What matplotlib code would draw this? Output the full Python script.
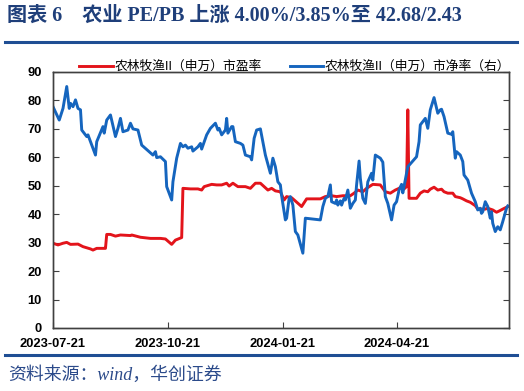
import matplotlib
matplotlib.use("Agg")
import matplotlib.pyplot as plt
from matplotlib.lines import Line2D
import pandas as pd

# ---------------- data ----------------
start_date = "2023-07-21"
end_date = "2024-07-20"

# PE (left axis), day offsets from start_date
pe_days = [0, 4, 8, 11, 14, 20, 24, 30, 32, 35, 41, 42, 43, 46, 50, 54, 62, 63, 70, 78,
           86, 90, 95, 98, 103, 104, 110, 116, 119, 121, 127, 131, 135, 139, 141, 144,
           148, 154, 158, 162, 166, 170, 172, 175, 178, 182, 185, 187, 191, 199, 203,
           214, 218, 223, 227, 232, 238, 241, 244, 248, 251, 256, 262, 266, 270, 274,
           277, 279, 280, 283, 284, 285, 291, 294, 297, 300, 302, 305, 308, 311, 313,
           316, 320, 322, 326, 328, 331, 334, 338, 340, 346, 348, 352, 355, 357, 360, 364]
pe_values = [29.8, 29.2, 29.8, 30.1, 29.4, 29.5, 28.6, 27.8, 27.4, 28.0, 28.0, 28.0, 32.9,
             32.9, 32.3, 32.7, 32.5, 32.7, 31.9, 31.5, 31.5, 31.3, 29.4, 30.9, 31.8, 49.1,
             48.9, 48.9, 48.5, 49.7, 50.5, 50.3, 50.3, 50.9, 49.9, 50.9, 49.7, 49.7, 49.1,
             50.9, 50.9, 49.3, 48.5, 49.1, 48.2, 47.9, 45.0, 46.2, 45.8, 42.7, 45.4, 45.4,
             46.2, 46.5, 46.2, 46.5, 46.5, 47.4, 48.5, 47.9, 49.1, 50.5, 50.3, 47.9, 47.4,
             48.5, 49.1, 49.7, 48.5, 49.7, 76.7, 45.6, 45.6, 47.4, 48.2, 47.9, 48.8, 49.5,
             48.5, 48.8, 47.9, 47.4, 47.4, 46.2, 45.8, 45.4, 44.7, 44.2, 43.0, 41.8, 41.8,
             42.1, 41.5, 40.7, 41.1, 41.8, 42.68]

# PB (right axis, plotted on the same 0-90 scale)
pb_days = [0, 5, 8, 11, 13, 14, 16, 18, 20, 22, 23, 27, 28, 30, 34, 35, 40, 41, 43, 46,
           50, 52, 54, 56, 60, 62, 64, 68, 71, 80, 82, 83, 86, 90, 91, 92, 95, 96, 99,
           102, 104, 106, 108, 111, 112, 116, 118, 119, 123, 126, 130, 132, 133, 135,
           138, 139, 140, 143, 144, 146, 150, 152, 154, 158, 159, 161, 163, 166, 170,
           174, 176, 178, 180, 182, 183, 185, 186, 187, 189, 190, 192, 194, 196, 200,
           202, 214, 216, 218, 220, 222, 223, 226, 227, 228, 230, 231, 233, 234, 236,
           238, 240, 242, 243, 245, 246, 248, 250, 252, 255, 256, 258, 262, 264, 266,
           268, 271, 273, 275, 277, 279, 280, 282, 284, 291, 293, 294, 298, 300, 302,
           305, 308, 310, 311, 313, 316, 319, 320, 322, 323, 326, 328, 329, 332, 335,
           338, 340, 342, 343, 344, 346, 348, 350, 351, 352, 354, 356, 358, 360, 363, 364]
pb_values = [77.8, 73.1, 77.2, 84.9, 77.2, 79.0, 77.8, 80.2, 77.2, 76.7, 69.6, 67.3, 67.9,
             65.5, 60.8, 65.5, 70.8, 68.5, 73.1, 74.9, 67.3, 70.2, 73.7, 69.0, 69.6, 72.0,
             70.0, 69.6, 64.3, 60.8, 62.0, 59.9, 60.2, 58.5, 49.7, 48.5, 45.0, 51.4, 59.7,
             64.9, 63.7, 64.3, 63.2, 63.7, 62.2, 63.7, 64.9, 62.9, 67.9, 70.2, 72.0, 69.6,
             70.2, 67.9, 69.6, 73.7, 68.5, 70.8, 70.8, 65.5, 64.9, 64.3, 60.8, 60.2, 59.1,
             66.7, 69.6, 70.0, 60.8, 54.4, 59.7, 56.7, 51.4, 50.3, 46.5, 40.9, 38.0, 38.6,
             45.6, 46.2, 43.2, 33.9, 32.7, 26.3, 38.6, 38.0, 42.7, 45.6, 46.2, 50.3, 44.4,
             43.8, 45.0, 43.2, 44.7, 43.2, 45.6, 45.0, 48.5, 42.1, 43.8, 45.0, 50.3, 58.7,
             52.6, 45.6, 43.8, 51.4, 54.4, 52.0, 60.8, 59.7, 58.3, 46.2, 43.8, 38.0, 43.2,
             44.4, 48.5, 50.5, 47.5, 52.0, 56.7, 60.2, 65.5, 71.4, 73.7, 70.2, 76.7, 81.0,
             75.5, 76.7, 76.9, 74.3, 68.5, 68.1, 69.0, 59.7, 62.0, 60.8, 58.5, 53.8, 52.0,
             47.4, 44.4, 41.5, 42.1, 40.3, 40.9, 44.4, 42.7, 38.6, 40.9, 36.8, 33.9, 35.6,
             34.5, 37.4, 42.1, 42.9]

x_ticks = ["2023-07-21", "2023-10-21", "2024-01-21", "2024-04-21"]
y_ticks = [0, 10, 20, 30, 40, 50, 60, 70, 80, 90]

pe_label = "农林牧渔II（申万）市盈率"
pb_label = "农林牧渔II（申万）市净率（右）"
title = "图表 6    农业 PE/PB 上涨 4.00%/3.85%至 42.68/2.43"
source = "资料来源：wind，华创证券"

# ---------------- styling ----------------
RED = "#E3141B"
BLUE = "#1565BE"
NAVY = "#1F3F7A"
CJK = ["Liberation Sans", "Noto Sans CJK SC", "DejaVu Sans"]
SERIF = ["Liberation Serif", "Noto Sans CJK SC", "DejaVu Sans"]
plt.rcParams["font.family"] = CJK

base = pd.Timestamp(start_date)
pe_dates = base + pd.to_timedelta(pe_days, unit="D")
pb_dates = base + pd.to_timedelta(pb_days, unit="D")

fig = plt.figure(figsize=(5.24, 3.91), dpi=100)
ax = fig.add_axes([53 / 524, 1 - 328 / 391, (509 - 53) / 524, (328 - 72) / 391])
ax2 = ax.twinx()

ax.plot(pe_dates, pe_values, color=RED, lw=2.1, solid_joinstyle="round")
ax2.plot(pb_dates, pb_values, color=BLUE, lw=2.1, solid_joinstyle="round")

ax.set_xlim(pd.Timestamp(start_date), pd.Timestamp(end_date))
ax.set_ylim(0, 90)
ax2.set_ylim(0, 90)
ax.set_yticks(y_ticks)
ax2.set_yticks(y_ticks)
ax2.set_yticklabels([])
ax.set_xticks(pd.to_datetime(x_ticks))
ax.set_xticklabels(x_ticks)

for a in (ax, ax2):
    for s in a.spines.values():
        s.set_color("#404040")
        s.set_linewidth(1.0)
ax.tick_params(axis="both", direction="in", length=4, width=0.8, color="#404040")
ax2.tick_params(axis="y", direction="in", length=4, width=0.8, color="#404040")
ax.tick_params(axis="y", pad=8)
ax.tick_params(axis="x", pad=7)
for lab in ax.get_yticklabels() + ax.get_xticklabels():
    lab.set_fontweight("bold")
    lab.set_fontsize(9.3)
    lab.set_fontfamily(["Liberation Sans", "DejaVu Sans"])

handles = [Line2D([], [], color=RED, lw=2.1), Line2D([], [], color=BLUE, lw=2.1)]
leg = fig.legend(handles, [pe_label, pb_label], ncol=2, loc="center",
                 bbox_to_anchor=(295 / 524, 1 - 67 / 391), frameon=False,
                 prop={"family": CJK, "size": 9.2}, handlelength=2.6,
                 handletextpad=0.15, columnspacing=2.2, borderpad=0, borderaxespad=0)

fig.text(7 / 524, 1 - 16 / 391, title, ha="left", va="center", color=NAVY,
         fontsize=14.5, fontweight="bold", family=SERIF)
fig.add_artist(Line2D([5 / 524, 517 / 524], [1 - 42 / 391, 1 - 42 / 391],
                      color="#1F4E94", lw=2.2, transform=fig.transFigure))
fig.add_artist(Line2D([5 / 524, 517 / 524], [1 - 355 / 391, 1 - 355 / 391],
                      color="#1F4E94", lw=2.2, transform=fig.transFigure))
fig.text(8 / 524, 1 - 375 / 391, source, ha="left", va="center", color="#2B4A8A",
         fontsize=12.9, style="italic", family=SERIF)

fig.savefig("out.png", dpi=100)
